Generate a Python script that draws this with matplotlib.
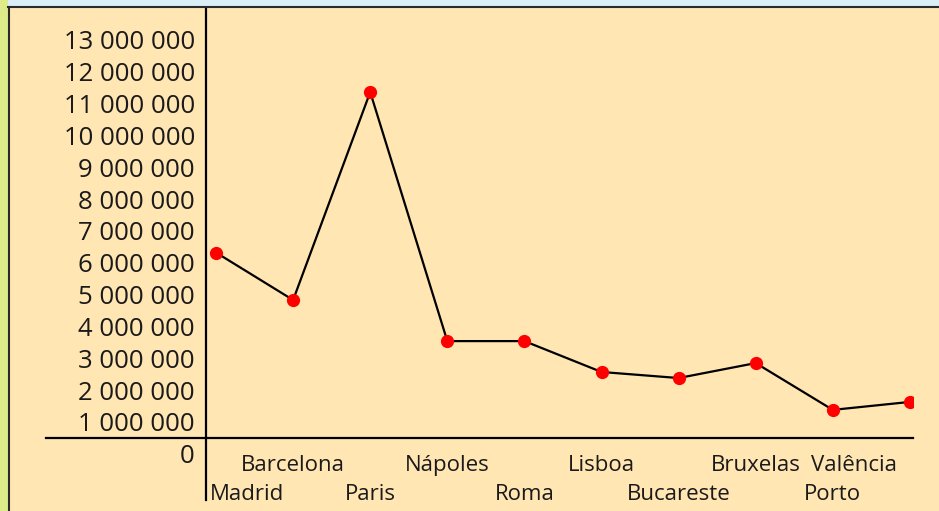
import matplotlib.pyplot as plt
from matplotlib.patches import Rectangle
from matplotlib.lines import Line2D
import matplotlib.transforms as mtransforms

cities = ['Madrid', 'Barcelona', 'Paris', 'Nápoles', 'Roma',
          'Lisboa', 'Bucareste', 'Bruxelas', 'Porto', 'Valência']
population = [6320000, 4830000, 11360000, 3540000, 3540000,
              2570000, 2380000, 2850000, 1380000, 1630000]
ticks = list(range(0, 14000000, 1000000))
tick_labels = [f'{t:,}'.replace(',', ' ') for t in ticks]

plt.rcParams['font.family'] = ['Open Sans', 'DejaVu Sans']

W, H = 939, 511
fig = plt.figure(figsize=(W / 100, H / 100), dpi=100)
fig.patch.set_facecolor('#ffe6b3')

# frame strips
fig.add_artist(Rectangle((0, 1 - 7 / H), 1, 7 / H, transform=fig.transFigure,
                         color='#d9eef7', lw=0))
fig.add_artist(Rectangle((0, 0), 8 / W, 1, transform=fig.transFigure,
                         color='#ddec88', lw=0))
fig.add_artist(Line2D([8 / W, 1], [1 - 7.5 / H, 1 - 7.5 / H],
                      transform=fig.transFigure, color='#2a2a2a', lw=1.5))
fig.add_artist(Line2D([8.5 / W, 8.5 / W], [0, 1 - 7 / H],
                      transform=fig.transFigure, color='#2a2a2a', lw=1.5))

ax = fig.add_axes([206 / W, 11 / H, (913 - 206) / W, 492 / H])
ax.set_facecolor('none')
for s in ['top', 'right', 'bottom']:
    ax.spines[s].set_visible(False)
ax.spines['left'].set_linewidth(1.6)
ax.spines['left'].set_color('black')

x = list(range(len(cities)))
ax.plot(x, population, color='black', lw=1.6, marker='o', mfc='red',
        mec='red', ms=8.5, zorder=3)

ax.set_xlim(-0.13, 9.04)
ax.set_ylim(-1450000, 14000000)
ax.set_xticks([])
ax.set_yticks(ticks)
ax.set_yticklabels(tick_labels, fontsize=18.5, color='#1a1a1a')
ax.tick_params(axis='y', length=0, pad=8)

# horizontal axis line extending left of the vertical axis
ax.axhline(500000, xmin=(46 - 206) / 707, xmax=1, color='black', lw=1.6,
           clip_on=False)

trans = mtransforms.blended_transform_factory(ax.transData, ax.transAxes)
for i, name in enumerate(cities):
    ypos = 0.012 if i % 2 == 0 else 0.071
    if i == 0:
        ax.text(-0.08, ypos, name, transform=trans, ha='left', va='center',
                fontsize=16, color='#1a1a1a')
    elif i == len(cities) - 1:
        ax.annotate(name, (i, ypos), xycoords=trans, xytext=(-9, 0),
                    textcoords='offset points', ha='right', va='center',
                    fontsize=16, color='#1a1a1a')
    else:
        ax.text(i, ypos, name, transform=trans, ha='center', va='center',
                fontsize=16, color='#1a1a1a')

fig.savefig('out.png', dpi=100, facecolor=fig.get_facecolor())
